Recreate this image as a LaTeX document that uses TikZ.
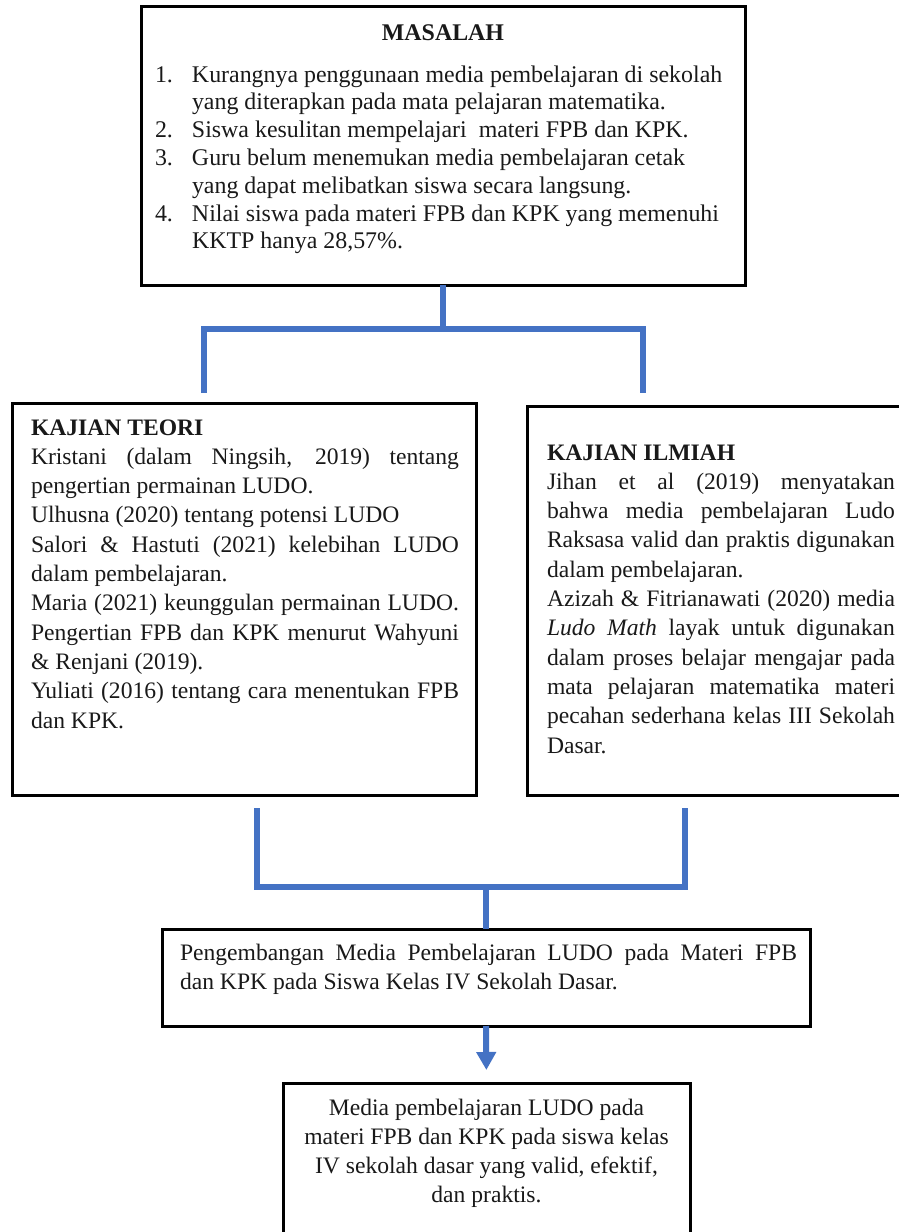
\documentclass[tikz,border=0pt]{standalone}
\usepackage{fontspec}
\setmainfont{Liberation Serif}
\usetikzlibrary{arrows.meta}
\definecolor{lnblue}{HTML}{4472C4}
\tikzset{
  box/.style={draw=black, line width=3pt, inner sep=0pt, outer sep=0pt, anchor=north west, fill=none},
  txt/.style={inner sep=0pt, outer sep=0pt, anchor=base west, text=black!90},
  conn/.style={draw=lnblue, line width=6pt, line join=miter},
}
\newcommand{\jl}[1]{\makebox[\linewidth][s]{#1}\\}
\newcommand{\bodyfont}{\fontsize{23.6}{29.3}\selectfont}
\begin{document}
\begin{tikzpicture}[x=1pt,y=-1pt]
\useasboundingbox (0,0) rectangle (899,1232);
% boxes
\node[box, minimum width=604pt, minimum height=279pt] (masalah) at (141,6) {};
\node[box, minimum width=464pt, minimum height=392pt] (teori) at (12,403) {};
\node[box, minimum width=383pt, minimum height=389pt] (ilmiah) at (527,406) {};
\node[box, minimum width=648pt, minimum height=97pt] (peng) at (162,929) {};
\node[box, minimum width=407pt, minimum height=170pt] (hasil) at (283,1083) {};
% texts
\node[txt, anchor=base] (masalahtitle) at (443,40) {\fontsize{23.9}{27.8}\selectfont\textbf{MASALAH}};
\node[txt] (masalahtxt) at (155,82) {\parbox[t]{580pt}{\fontsize{23.9}{27.8}\selectfont
\makebox[37pt][l]{1.}Kurangnya penggunaan media pembelajaran di sekolah\\
\hspace*{37pt}yang diterapkan pada mata pelajaran matematika.\\
\makebox[37pt][l]{2.}Siswa kesulitan mempelajari\ \ materi FPB dan KPK.\\
\makebox[37pt][l]{3.}Guru belum menemukan media pembelajaran cetak\\
\hspace*{37pt}yang dapat melibatkan siswa secara langsung.\\
\makebox[37pt][l]{4.}Nilai siswa pada materi FPB dan KPK yang memenuhi\\
\hspace*{37pt}KKTP hanya 28,57\%.}};
\node[txt] (teoritxt) at (31,435) {\parbox[t]{428pt}{\bodyfont
\textbf{KAJIAN TEORI}\\
\jl{Kristani (dalam Ningsih, 2019) tentang}
pengertian permainan LUDO.\\
Ulhusna (2020) tentang potensi LUDO\\
\jl{Salori \& Hastuti (2021) kelebihan LUDO}
dalam pembelajaran.\\
\jl{Maria (2021) keunggulan permainan LUDO.}
\jl{Pengertian FPB dan KPK menurut Wahyuni}
\& Renjani (2019).\\
\jl{Yuliati (2016) tentang cara menentukan FPB}
dan KPK.}};
\node[txt] (ilmiahtxt) at (547,460) {\parbox[t]{348pt}{\bodyfont
\textbf{KAJIAN ILMIAH}\\
\jl{Jihan et al (2019) menyatakan}
\jl{bahwa media pembelajaran Ludo}
\jl{Raksasa valid dan praktis digunakan}
dalam pembelajaran.\\
\jl{Azizah \& Fitrianawati (2020) media}
\jl{\textit{Ludo}\ \textit{Math} layak untuk digunakan}
\jl{dalam proses belajar mengajar pada}
\jl{mata pelajaran matematika materi}
\jl{pecahan sederhana kelas III Sekolah}
Dasar.}};
\node[txt] (pengtxt) at (180,960) {\parbox[t]{617pt}{\fontsize{23.6}{29.5}\selectfont
\jl{Pengembangan Media Pembelajaran LUDO pada Materi FPB}
dan KPK pada Siswa Kelas IV Sekolah Dasar.}};
\node[txt, anchor=base] (hasiltxt) at (486.5,1115) {\parbox[t]{400pt}{\bodyfont\centering
Media pembelajaran LUDO pada\\
materi FPB dan KPK pada siswa kelas\\
IV sekolah dasar yang valid, efektif,\\
dan praktis.\par}};
% connectors
\coordinate (jtop) at (443,329);
\coordinate (tl) at (204,393);
\coordinate (tr) at (643,393);
\draw[conn] (masalah.south) -- (jtop);
\draw[conn] (tl) |- (jtop) -| (tr);
\coordinate (bl) at (257,808);
\coordinate (br) at (685,808);
\coordinate (jbot) at (486,887);
\draw[conn] (bl) |- (jbot) -| (br);
\draw[conn] (jbot) -- (peng.north);
\draw[conn, -{Triangle[width=19pt,length=18pt]}, shorten >=13pt] (peng.south) -- (hasil.north);
\end{tikzpicture}
\end{document}
